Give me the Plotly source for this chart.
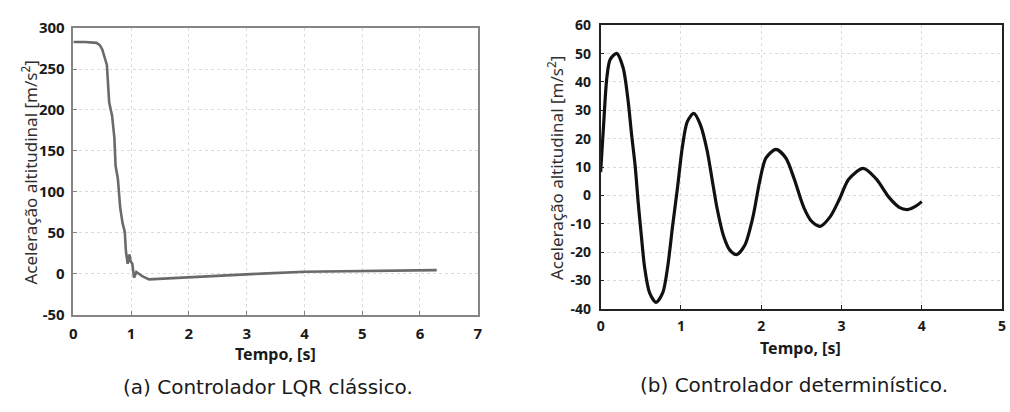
import plotly.graph_objects as go

# (a) LQR classic controller
t_lqr = [0.0, 0.2, 0.40, 0.46, 0.50, 0.54, 0.58, 0.62, 0.67, 0.71, 0.73, 0.77, 0.81, 0.85,
         0.89, 0.91, 0.94, 0.97, 0.99, 1.02, 1.05, 1.09, 1.14, 1.2, 1.31, 1.71, 2.1, 2.6,
         3.26, 4.0, 5.0, 6.29]
a_lqr = [283, 283, 282, 279, 274, 265, 255, 209, 193, 166, 132, 116, 81, 62,
         51, 27, 12, 23.5, 15, 12, -5, 2, -1, -3.5, -7, -5.5, -3.5, -2,
         0, 2.3, 3, 4.3]

# (b) deterministic controller
t_det = [0.0, 0.037, 0.078, 0.119, 0.20, 0.28, 0.34, 0.385, 0.43, 0.466, 0.507, 0.548,
         0.61, 0.69, 0.773, 0.834, 0.896, 0.957, 1.018, 1.08, 1.16, 1.243, 1.325, 1.387,
         1.448, 1.53, 1.61, 1.693, 1.795, 1.898, 1.98, 2.06, 2.184, 2.307, 2.41, 2.53,
         2.63, 2.736, 2.86, 2.98, 3.09, 3.27, 3.43, 3.595, 3.72, 3.82, 3.92, 4.0]
a_det = [8.2, 24.9, 41.7, 47.9, 50.1, 45, 33.9, 21.6, 10.4, -1.9, -14.2, -25.4,
         -34.4, -37.7, -34.4, -25.4, -10.9, 2.6, 17.1, 26, 28.9, 24.9, 16, 5.9,
         -4.2, -14.2, -19.3, -20.9, -17.6, -7.5, 4.8, 13.2, 16.2, 13.2, 5.9, -4.2,
         -9.2, -10.9, -7.5, -1.0, 5.7, 9.5, 5.9, -0.8, -4.2, -5.0, -3.9, -2.2]

x_ticks_a = [0, 1, 2, 3, 4, 5, 6, 7]
y_ticks_a = [-50, 0, 50, 100, 150, 200, 250, 300]
x_ticks_b = [0, 1, 2, 3, 4, 5]
y_ticks_b = [-40, -30, -20, -10, 0, 10, 20, 30, 40, 50, 60]

W, H = 1010, 412
FONT = "Noto Sans"
CAPFONT = "DejaVu Sans"

fig = go.Figure()
fig.add_trace(go.Scatter(x=t_lqr, y=a_lqr, mode="lines", xaxis="x", yaxis="y",
                         line=dict(color="#6a6a6a", width=2.6), showlegend=False))
fig.add_trace(go.Scatter(x=t_det, y=a_det, mode="lines", xaxis="x2", yaxis="y2",
                         line=dict(color="#111111", width=3.2, shape="spline", smoothing=0.8),
                         showlegend=False))


def ax(dom, rng, ticks, color, anchor, fsize, standoff):
    return dict(domain=dom, range=rng, tickvals=ticks, ticktext=[str(v) for v in ticks],
                showgrid=True, gridcolor="#dcdcdc", griddash="dot", gridwidth=1,
                zeroline=False, showline=True, linecolor=color, linewidth=1.5, mirror=True,
                ticks="inside", ticklen=4, tickcolor=color,
                tickfont=dict(family=FONT, size=fsize, color="#1a1a1a", weight="bold"),
                ticklabelstandoff=standoff, anchor=anchor, fixedrange=True)


fig.update_layout(
    width=W, height=H, margin=dict(l=0, r=0, t=0, b=0),
    paper_bgcolor="white", plot_bgcolor="white",
    xaxis=ax([70 / W, 478 / W], [0, 7], x_ticks_a, "#858585", "y", 15, 5),
    yaxis=ax([1 - 319 / H, 1 - 18 / H], [-50, 300], y_ticks_a, "#858585", "x", 15, 4),
    xaxis2=ax([602 / W, 1007 / W], [0, 5], x_ticks_b, "#222222", "y2", 14, 4),
    yaxis2=ax([1 - 313 / H, 1 - 15 / H], [-40, 60], y_ticks_b, "#222222", "x2", 14, 5),
)

ann = []


def text(x, y, s, size, bold=False, angle=0, color="#1a1a1a", family=FONT):
    ann.append(dict(x=x / W, y=1 - y / H, xref="paper", yref="paper", text=s, showarrow=False,
                    xanchor="center", yanchor="middle", textangle=angle,
                    font=dict(family=family, size=size, color=color,
                              weight="bold" if bold else "normal")))


text(274, 360, "Tempo, [s]", 16, bold=True)
text(804, 354, "Tempo, [s]", 16, bold=True)
text(26, 170, "Aceleração altitudinal [m/s<sup>2</sup>]", 17, angle=-90, color="#2e2e2e")
text(557, 165, "Aceleração altitudinal [m/s<sup>2</sup>]", 17, angle=-90, color="#2e2e2e")
text(266, 395, "(a) Controlador LQR clássico.", 20, family=CAPFONT)
text(797, 393, "(b) Controlador determinístico.", 20, family=CAPFONT)
fig.update_layout(annotations=ann)

fig.write_html("out.html")
